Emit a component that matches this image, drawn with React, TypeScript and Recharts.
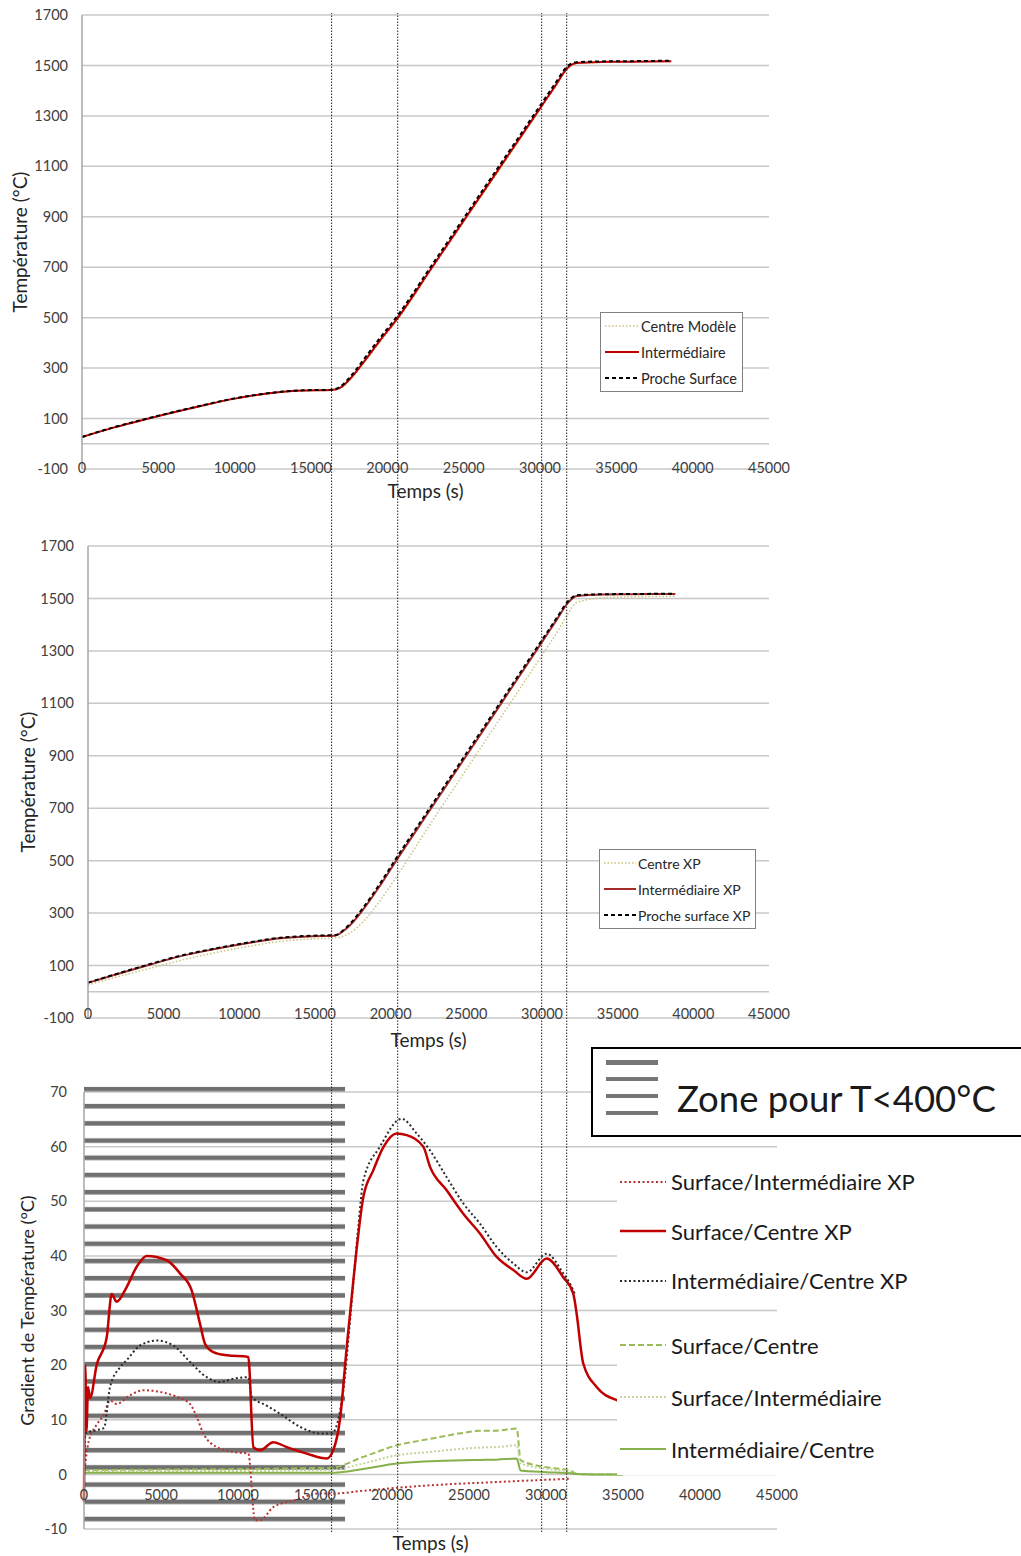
import React from 'react';
import {
  LineChart,
  Line,
  XAxis,
  YAxis,
  CartesianGrid,
  ReferenceLine,
  ReferenceArea,
  Legend,
} from 'recharts';

const FONT = "Lato, 'Open Sans', 'DejaVu Sans', sans-serif";
const GRID = '#c8c8c8';
const AXIS = '#a6a6a6';
const TICK = '#404040';
const TITLE = '#262626';

// ---------- shared axes ----------
const timeTicks = [0, 5000, 10000, 15000, 20000, 25000, 30000, 35000, 40000, 45000];
const tempTicks = [-100, 100, 300, 500, 700, 900, 1100, 1300, 1500, 1700];
const gradTicks = [-10, 0, 10, 20, 30, 40, 50, 60, 70];
// phase boundaries (s) drawn across the three panels
const phaseTimes = [16350, 20680, 30110, 31750];
// zone T<400°C (hatched)
const coldZoneTime = [0, 16950];
const coldZoneGrad = [-8.7, 70.95];

// ---------- panel 1 : model ----------
const m1Time = [0, 2000, 5000, 7500, 10000, 12000, 13000, 14500, 16300, 16900, 17700, 18400, 19500, 20600, 22900, 25200, 27400, 29900, 31000, 31800, 32400, 34000, 36000, 38600];
const m1Surface = [27, 64, 111, 147, 180, 199, 206, 212, 214, 226, 275, 330, 418, 502, 707, 912, 1108, 1331, 1429, 1497, 1513, 1516, 1517, 1519];
const m1Inter = [27, 63, 110, 146, 179, 198, 205, 211, 213, 222, 267, 320, 408, 492, 697, 902, 1098, 1321, 1419, 1490, 1510, 1514, 1515, 1517];
const m1Centre = [26, 62, 109, 145, 178, 197, 204, 210, 212, 219, 262, 314, 402, 486, 691, 896, 1092, 1315, 1413, 1484, 1507, 1512, 1514, 1515];

// ---------- panel 2 : experiment ----------
const x2Time = [0, 2000, 4000, 6000, 8300, 10500, 12700, 14900, 16300, 17100, 18200, 19300, 20400, 22600, 24800, 27000, 29900, 31000, 31700, 32300, 34000, 36000, 38800];
const x2Surface = [35, 70, 104, 136, 164, 187, 206, 214, 216, 247, 322, 413, 512, 702, 892, 1082, 1333, 1428, 1488, 1512, 1516, 1517, 1518];
const x2Inter = [34, 69, 102, 134, 162, 185, 204, 212, 214, 242, 315, 405, 503, 693, 883, 1073, 1325, 1421, 1482, 1509, 1515, 1516, 1517];
const x2Centre = [26, 58, 88, 118, 148, 172, 192, 202, 205, 218, 268, 348, 440, 638, 830, 1022, 1275, 1372, 1440, 1485, 1502, 1506, 1508];

// ---------- panel 3 : gradients ----------
const scXpTime = [0, 80, 160, 260, 400, 820, 1470, 1800, 2120, 2770, 3420, 4070, 5370, 6230, 6990, 7530, 7860, 8400, 9270, 10670, 11000, 11430, 12290, 13160, 14460, 15760, 16180, 16620, 17060, 17490, 18140, 18790, 19440, 20300, 20950, 22030, 22470, 23550, 24630, 25710, 26800, 27880, 28750, 30040, 31120, 31770, 31850, 31990, 32420, 33290, 34590, 34900];
const scXpVal = [-5, 20, 8, 16, 14, 20, 25, 33, 31.6, 34.3, 38, 40, 39.2, 36.8, 33.7, 27.6, 23.9, 22.4, 21.8, 21.5, 5, 4.4, 5.9, 5.0, 3.8, 2.9, 4.4, 10, 23.3, 35.5, 50.8, 55.7, 59.9, 62.4, 62.1, 60, 56.3, 52, 47.7, 44.1, 39.8, 37.4, 35.8, 39.5, 36.1, 33.1, 32, 29.4, 20.3, 16, 13.6, 13.3];

const icXpTime = [0, 100, 820, 1300, 1690, 2340, 2770, 3640, 4720, 5800, 6880, 7970, 8830, 9700, 10670, 10890, 11860, 12730, 14030, 15320, 16080, 16840, 17300, 17800, 18140, 19220, 20630, 21600, 22470, 23550, 24630, 25710, 26800, 27880, 28750, 30040, 31120, 31560, 31880];
const icXpVal = [0, 7.5, 8.1, 8.5, 16, 19.6, 20.9, 23.6, 24.5, 23.6, 20.6, 17.8, 16.9, 17.5, 17.8, 14.2, 12.6, 11.1, 8.7, 7.5, 7.5, 15.4, 29, 45, 53.8, 60, 65.1, 62.4, 59.3, 54.4, 49.6, 45.9, 41.6, 38.6, 37, 40.4, 36.8, 34.9, 33];

const siXpTime = [0, 300, 800, 1300, 1690, 2120, 3000, 3850, 4940, 6020, 6880, 7320, 7750, 8620, 9700, 10670, 11100, 11430, 12290, 13590, 15320, 16190, 18140, 22470, 26800, 31560];
const siXpVal = [0, 6, 9, 11, 13.5, 12.9, 14.5, 15.4, 15.1, 14.2, 12.9, 10.5, 7.5, 5.0, 4.1, 3.8, -8.4, -8.4, -6, -4.8, -3.5, -3.5, -3.0, -2.0, -1.4, -0.8];

const mGradTime = [0, 16000, 18140, 20300, 22470, 24630, 25710, 26800, 28100, 28350, 30040, 31560, 32000, 33000, 35000];
const scModVal = [0.8, 1.2, 3.2, 5.3, 6.5, 7.6, 8.0, 8.0, 8.4, 2.6, 1.3, 0.7, 0.1, 0, 0];
const siModVal = [0.5, 0.8, 2.0, 3.5, 4.1, 4.7, 4.9, 5.0, 5.3, 2.0, 1.0, 0.5, 0.1, 0, 0];
const icModVal = [0.3, 0.3, 1.0, 2.0, 2.4, 2.6, 2.65, 2.7, 2.9, 0.7, 0.4, 0.2, 0.05, 0, 0];

// ---------- build tables ----------
const panel1Data = m1Time.map((t, i) => ({ t, centre: m1Centre[i], inter: m1Inter[i], surface: m1Surface[i] }));
const panel2Data = x2Time.map((t, i) => ({ t, centre: x2Centre[i], inter: x2Inter[i], surface: x2Surface[i] }));
const pts = (ts: number[], vs: number[]) => ts.map((t, i) => ({ t, v: vs[i] }));
const phaseData = [
  { t: 0, y: 0.5 },
  { t: 45000, y: 0.5 },
];

type S = { key: string; name: string; color: string; dash?: string; width: number };

const panel1Series: S[] = [
  { key: 'centre', name: 'Centre Modèle', color: '#cbc27c', dash: '1.5 2', width: 1.5 },
  { key: 'inter', name: 'Intermédiaire', color: '#c00000', width: 2 },
  { key: 'surface', name: 'Proche Surface', color: '#000000', dash: '4 3', width: 2 },
];
const panel2Series: S[] = [
  { key: 'centre', name: 'Centre XP', color: '#cbc27c', dash: '1.5 2', width: 1.5 },
  { key: 'inter', name: 'Intermédiaire XP', color: '#a52a2a', width: 2 },
  { key: 'surface', name: 'Proche surface XP', color: '#000000', dash: '4 3', width: 2 },
];

type G = S & { data: { t: number; v: number }[] };
const gradXp: G[] = [
  { key: 'siXp', name: 'Surface/Intermédiaire XP', color: '#b83232', dash: '2 2.5', width: 2, data: pts(siXpTime, siXpVal) },
  { key: 'scXp', name: 'Surface/Centre XP', color: '#c00000', width: 2.5, data: pts(scXpTime, scXpVal) },
  { key: 'icXp', name: 'Intermédiaire/Centre XP', color: '#2a2a2a', dash: '2 2.5', width: 2, data: pts(icXpTime, icXpVal) },
];
const gradModel: G[] = [
  { key: 'scMod', name: 'Surface/Centre', color: '#9bbb59', dash: '6 3', width: 2, data: pts(mGradTime, scModVal) },
  { key: 'siMod', name: 'Surface/Intermédiaire', color: '#c3d69b', dash: '2 2', width: 2, data: pts(mGradTime, siModVal) },
  { key: 'icMod', name: 'Intermédiaire/Centre', color: '#86b04a', width: 2, data: pts(mGradTime, icModVal) },
];

// ---------- small render helpers ----------
const XTick = (props: any) => {
  const { x, y, payload, shift, size } = props;
  return (
    <text x={x} y={y + shift} textAnchor="middle" dominantBaseline="central" fontSize={size} fill={TICK} fontFamily={FONT}>
      {payload.value}
    </text>
  );
};

const Sample = ({ s, w }: { s: S; w: number }) => (
  <svg width={w} height={10} style={{ display: 'block', flex: 'none' }}>
    <line x1={0} y1={5} x2={w - 2} y2={5} stroke={s.color} strokeWidth={s.width} strokeDasharray={s.dash} />
  </svg>
);

const BoxLegend = ({ series, width, sampleW, fontSize }: { series: S[]; width: number; sampleW: number; fontSize: number }) => (
  <div
    style={{
      width,
      height: 80,
      border: '1px solid #808080',
      background: '#fff',
      boxSizing: 'border-box',
      fontFamily: FONT,
      fontSize,
      color: TITLE,
    }}
  >
    {series.map((s) => (
      <div key={s.key} style={{ display: 'flex', alignItems: 'center', height: 26, paddingLeft: 4 }}>
        <Sample s={s} w={sampleW} />
        <span style={{ whiteSpace: 'nowrap' }}>{s.name}</span>
      </div>
    ))}
  </div>
);

const GradLegend = () => (
  <div style={{ position: 'relative', width: 432, height: 430, fontFamily: FONT, color: '#1a1a1a' }}>
    <div
      style={{
        position: 'absolute',
        left: 0,
        top: 0,
        width: 432,
        height: 90,
        border: '2px solid #000',
        background: '#fff',
        boxSizing: 'border-box',
      }}
    >
      {[0, 1, 2, 3].map((k) => (
        <div key={k} style={{ position: 'absolute', left: 13, top: 11 + k * 16.9, width: 52, height: 4.6, background: '#767676' }} />
      ))}
      <div style={{ position: 'absolute', left: 84, top: 27, fontSize: 36.5, lineHeight: '44px', whiteSpace: 'nowrap' }}>
        Zone pour T&lt;400°C
      </div>
    </div>
    {[gradXp, gradModel].map((group, gi) => (
      <div
        key={gi}
        style={{
          position: 'absolute',
          left: 26,
          top: gi === 0 ? 110 : 272,
          width: 380,
          background: '#fff',
          paddingLeft: 3,
        }}
      >
        {group.map((s) => (
          <div key={s.key} style={{ display: 'flex', alignItems: 'center', height: gi === 0 ? 49.5 : 52 }}>
            <Sample s={s} w={48} />
            <span style={{ marginLeft: 3, fontSize: 22, whiteSpace: 'nowrap' }}>{s.name}</span>
          </div>
        ))}
      </div>
    ))}
  </div>
);

const TempPanel = ({
  data,
  series,
  top,
  height,
  marginTop,
  yWidth,
  bottom,
  labelShift,
  yTitleX,
  legendLeft,
  legendTop,
  legendWidth,
  sampleW,
  legendFont,
}: any) => (
  <div style={{ position: 'absolute', left: 0, top }}>
    <LineChart
      width={800}
      height={height}
      data={data}
      margin={{ top: marginTop, right: 31, bottom, left: 0 }}
      style={{ fontFamily: FONT }}
    >
      <CartesianGrid vertical={false} stroke={GRID} strokeWidth={1.5} />
      <XAxis
        dataKey="t"
        type="number"
        domain={[0, 45000]}
        ticks={timeTicks}
        axisLine={false}
        tickLine={false}
        tickSize={0}
        tickMargin={0}
        height={30}
        interval={0}
        tick={<XTick shift={labelShift} size={14.5} />}
        label={{ value: 'Temps (s)', position: 'insideBottom', offset: 1, fontSize: 19, fill: TITLE }}
      />
      <YAxis
        type="number"
        domain={[-100, 1700]}
        ticks={tempTicks}
        interval={0}
        width={yWidth}
        axisLine={{ stroke: AXIS, strokeWidth: 1.5 }}
        tickLine={false}
        tickSize={0}
        tickMargin={14}
        tick={{ fontSize: 14.5, fill: TICK, fontFamily: FONT }}
        label={{
          value: 'Température (°C)',
          angle: -90,
          position: 'insideLeft',
          offset: yTitleX,
          fontSize: 19,
          fill: TITLE,
          style: { textAnchor: 'middle' },
        }}
      />
      <ReferenceLine y={0} stroke={GRID} strokeWidth={1.5} />
      {series.map((s: S) => (
        <Line
          key={s.key}
          dataKey={s.key}
          name={s.name}
          type="monotone"
          stroke={s.color}
          strokeWidth={s.width}
          strokeDasharray={s.dash}
          dot={false}
          isAnimationActive={false}
        />
      ))}
      <Legend
        layout="horizontal"
        verticalAlign="middle"
        align="center"
        wrapperStyle={{ left: legendLeft, top: legendTop, width: legendWidth, height: 80 }}
        content={() => <BoxLegend series={series} width={legendWidth} sampleW={sampleW} fontSize={legendFont} />}
      />
    </LineChart>
  </div>
);

export default function App() {
  return (
    <div
      style={{
        position: 'absolute',
        left: 0,
        top: 0,
        width: 1021,
        height: 1556,
        overflow: 'hidden',
        background: '#fff',
        fontFamily: FONT,
      }}
    >
      <TempPanel
        data={panel1Data}
        series={panel1Series}
        top={0}
        height={510}
        marginTop={15}
        yWidth={82}
        bottom={11}
        labelShift={-2}
        yTitleX={20}
        legendLeft={600}
        legendTop={312}
        legendWidth={143}
        sampleW={36}
        legendFont={14.5}
      />
      <TempPanel
        data={panel2Data}
        series={panel2Series}
        top={500}
        height={560}
        marginTop={46}
        yWidth={88}
        bottom={12}
        labelShift={-5}
        yTitleX={28}
        legendLeft={599}
        legendTop={349}
        legendWidth={157}
        sampleW={34}
        legendFont={14}
      />

      {/* panel 3 : temperature gradients */}
      <div style={{ position: 'absolute', left: 0, top: 1040 }}>
        <LineChart width={1021} height={516} margin={{ top: 52, right: 244, bottom: 5, left: 0 }} style={{ fontFamily: FONT }}>
          <defs>
            <pattern id="coldHatch" patternUnits="userSpaceOnUse" width={8} height={17.2}>
              <rect x={0} y={12.3} width={8} height={4.6} fill="#707070" />
            </pattern>
          </defs>
          <CartesianGrid vertical={false} stroke={GRID} strokeWidth={1.5} />
          <XAxis
            dataKey="t"
            type="number"
            domain={[0, 45000]}
            ticks={timeTicks}
            interval={0}
            axisLine={false}
            tickLine={false}
            tickSize={0}
            tickMargin={0}
            height={22}
            tick={<XTick shift={-35} size={14.5} />}
            label={{ value: 'Temps (s)', position: 'insideBottom', offset: 1, fontSize: 19, fill: TITLE }}
          />
          <YAxis
            type="number"
            domain={[-10, 70]}
            ticks={gradTicks}
            interval={0}
            width={84}
            axisLine={{ stroke: AXIS, strokeWidth: 1.5 }}
            tickLine={false}
            tickSize={0}
            tickMargin={17}
            tick={{ fontSize: 14.5, fill: TICK, fontFamily: FONT }}
            label={{
              value: 'Gradient de Température (°C)',
              angle: -90,
              position: 'insideLeft',
              offset: 28,
              fontSize: 18,
              fill: TITLE,
              style: { textAnchor: 'middle' },
            }}
          />
          <ReferenceArea
            x1={coldZoneTime[0]}
            x2={coldZoneTime[1]}
            y1={coldZoneGrad[0]}
            y2={coldZoneGrad[1]}
            fill="url(#coldHatch)"
            fillOpacity={1}
            stroke="none"
            ifOverflow="visible"
          />
          {[...gradModel, gradXp[0], gradXp[2], gradXp[1]].map((s) => (
            <Line
              key={s.key}
              data={s.data}
              dataKey="v"
              name={s.name}
              type="monotone"
              stroke={s.color}
              strokeWidth={s.width}
              strokeDasharray={s.dash}
              dot={false}
              isAnimationActive={false}
            />
          ))}
          <Legend
            layout="horizontal"
            verticalAlign="middle"
            align="center"
            wrapperStyle={{ left: 591, top: 7, width: 432, height: 430 }}
            content={() => <GradLegend />}
          />
        </LineChart>
      </div>

      {/* phase boundaries across all panels */}
      <div style={{ position: 'absolute', left: 0, top: 0, pointerEvents: 'none' }}>
        <LineChart width={800} height={1556} data={phaseData} margin={{ top: 13, right: 31, bottom: 24, left: 82 }}>
          <XAxis dataKey="t" type="number" domain={[0, 45000]} height={0} tick={false} axisLine={false} tickLine={false} />
          <YAxis type="number" domain={[0, 1]} width={0} tick={false} axisLine={false} tickLine={false} />
          <Line dataKey="y" stroke="none" dot={false} activeDot={false} isAnimationActive={false} />
          {phaseTimes.map((t) => (
            <ReferenceLine key={t} x={t} stroke="#222" strokeWidth={1} strokeDasharray="1.5 1.5" ifOverflow="visible" />
          ))}
        </LineChart>
      </div>
    </div>
  );
}
